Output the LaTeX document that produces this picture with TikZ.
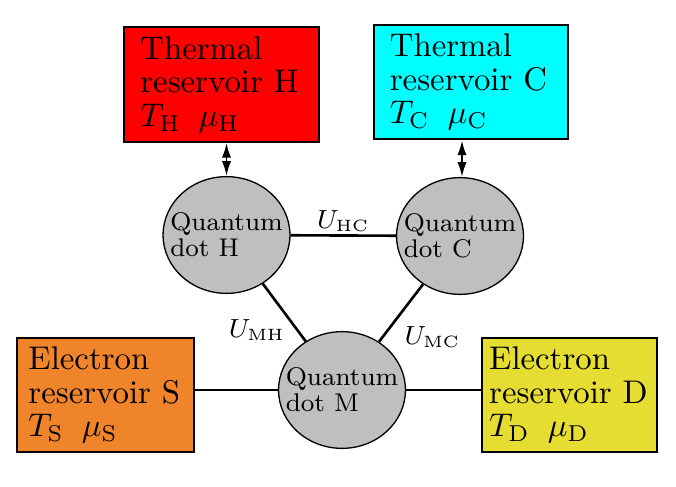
\documentclass[tikz,border=0pt]{standalone}
\usepackage{tikz}
\usetikzlibrary{shapes.geometric,arrows.meta}

\definecolor{rescyan}{RGB}{0,255,255}
\definecolor{resorange}{RGB}{240,132,42}
\definecolor{resyellow}{RGB}{230,221,50}

\begin{document}
\begin{tikzpicture}[x=0.305pt,y=-0.305pt,
    reservoir/.style={draw,semithick,align=left,inner ysep=0pt,
        font=\fontsize{10}{10.2}\selectfont,minimum height=35pt,anchor=center},
    qdot/.style={draw,ellipse,fill=gray!50,inner xsep=-3.5pt,inner ysep=0pt,align=left,
        minimum width=38.7pt,minimum height=35.6pt,font=\fontsize{7.8}{8}\selectfont},
    coupling/.style={thick},
    heat/.style={semithick,{Latex[length=4.5pt,width=2.8pt]}-{Latex[length=4.5pt,width=2.8pt]}},
    ulabel/.style={font=\fontsize{7.8}{8}\selectfont}]
    \useasboundingbox (0,0) rectangle (676,486);

    \node [reservoir,fill=red,text width=49.5pt,inner xsep=5pt] (resH) at (221.5,84.5)
        {Thermal\\reservoir H\\$T_{\rm H}\;\;\mu_{\rm H}$};
    \node [reservoir,fill=rescyan,text width=49.5pt,inner xsep=4.8pt] (resC) at (471,82)
        {Thermal\\reservoir C\\$T_{\rm C}\;\;\mu_{\rm C}$};
    \node [reservoir,fill=resorange,text width=47pt,inner xsep=3.5pt] (resS) at (105.5,395)
        {Electron\\reservoir S\\$T_{\rm S}\;\;\mu_{\rm S}$};
    \node [reservoir,fill=resyellow,text width=49pt,inner xsep=2.2pt] (resD) at (569.5,395)
        {Electron\\reservoir D\\$T_{\rm D}\;\;\mu_{\rm D}$};

    \node [qdot] (dotH) at (226.5,235) {Quantum\\dot H};
    \node [qdot] (dotC) at (460,236) {Quantum\\dot C};
    \node [qdot] (dotM) at (342,390) {Quantum\\dot M};

    \draw [heat] (resH.south -| dotH) -- (dotH.north);
    \draw [heat] (resC.south -| 462,0) -- (dotC.north -| 462,0);

    \draw [coupling] (dotH) -- node[ulabel,above=-2.5pt] {$U_{\rm HC}$} (dotC);
    \draw [coupling] (dotH) -- node[ulabel,pos=0.8,left=0pt] {$U_{\rm MH}$} (dotM);
    \draw [coupling] (dotC) -- node[ulabel,pos=0.92,right=3pt] {$U_{\rm MC}$} (dotM);
    \draw [coupling] (resS.east |- dotM.west) -- (dotM.west);
    \draw [coupling] (dotM.east) -- (resD.west |- dotM.east);
\end{tikzpicture}
\end{document}
